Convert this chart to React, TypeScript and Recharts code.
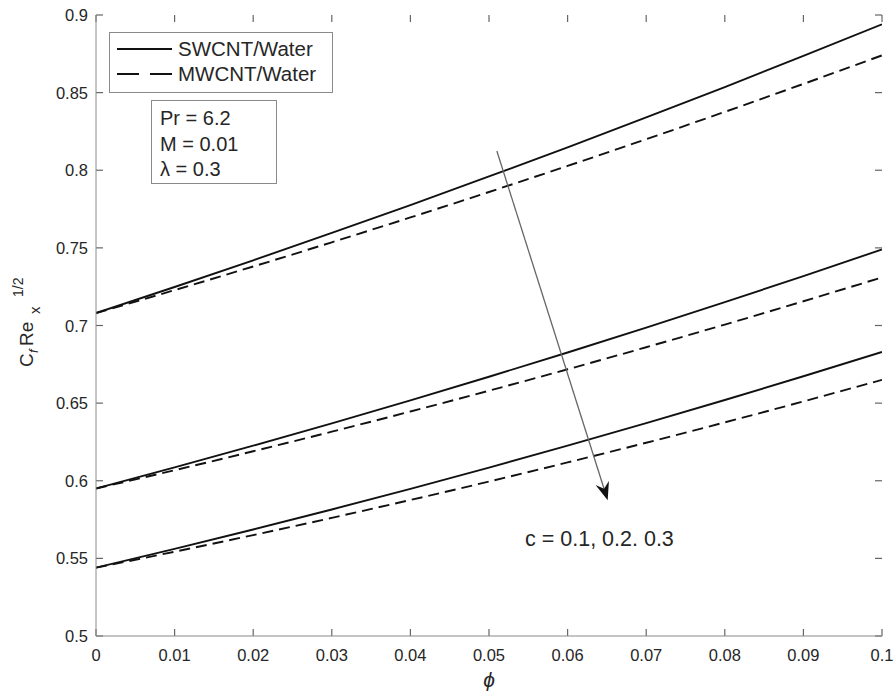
import React from "react";
import {
  LineChart,
  Line,
  XAxis,
  YAxis,
  ReferenceLine,
} from "recharts";

// Volume fraction of the nanotubes
const phi = [0, 0.01, 0.02, 0.03, 0.04, 0.05, 0.06, 0.07, 0.08, 0.09, 0.1];

// Skin friction C_f Re_x^{1/2}, one pair of curves per c value
const swC1 = [0.708, 0.7248, 0.742, 0.7596, 0.7776, 0.796, 0.8148, 0.834, 0.8536, 0.8736, 0.894];
const mwC1 = [0.708, 0.7228, 0.738, 0.7536, 0.7696, 0.786, 0.8028, 0.82, 0.8376, 0.8556, 0.874];
const swC2 = [0.595, 0.6086, 0.6226, 0.637, 0.6518, 0.667, 0.6826, 0.6986, 0.715, 0.7318, 0.749];
const mwC2 = [0.595, 0.6068, 0.619, 0.6316, 0.6446, 0.658, 0.6718, 0.686, 0.7006, 0.7156, 0.731];
const swC3 = [0.544, 0.5561, 0.5686, 0.5815, 0.5948, 0.6085, 0.6226, 0.6371, 0.652, 0.6673, 0.683];
const mwC3 = [0.544, 0.5543, 0.565, 0.5761, 0.5876, 0.5995, 0.6118, 0.6245, 0.6376, 0.6511, 0.665];

const xTicks = [0, 0.01, 0.02, 0.03, 0.04, 0.05, 0.06, 0.07, 0.08, 0.09, 0.1];
const yTicks = [0.5, 0.55, 0.6, 0.65, 0.7, 0.75, 0.8, 0.85, 0.9];

const legendItems = ["SWCNT/Water", "MWCNT/Water"];
const paramLines = ["Pr = 6.2", "M = 0.01", "λ = 0.3"];
const cLabel = "c = 0.1, 0.2. 0.3";

// Direction arrow across the three curve pairs (increasing c)
const arrowFrom = { x: 0.051, y: 0.8124 };
const arrowTo = { x: 0.0651, y: 0.5875 };

const data = phi.map((p, i) => ({
  phi: p,
  sw1: swC1[i],
  mw1: mwC1[i],
  sw2: swC2[i],
  mw2: mwC2[i],
  sw3: swC3[i],
  mw3: mwC3[i],
}));

const FONT = '"Liberation Sans", Arial, Helvetica, sans-serif';
const AXIS_GREY = "#8a8a8a";
const TICK_GREY = "#666";
const TEXT = "#262626";
const DASH = "11 6";
const TICK_LEN = 7;
const TICK_FONT = 16.5;

const fmt = (v: number) => String(parseFloat(v.toFixed(2)));

const BottomTickLabel = (p: any) => (
  <text x={p.x} y={p.y + 12} textAnchor="middle" fontFamily={FONT} fontSize={TICK_FONT} fill={TEXT}>
    {fmt(p.payload.value)}
  </text>
);
const LeftTickLabel = (p: any) => (
  <text x={p.x} y={p.y + 6} textAnchor="end" fontFamily={FONT} fontSize={TICK_FONT} fill={TEXT}>
    {fmt(p.payload.value)}
  </text>
);

// Inward tick marks on both ends of a reference line spanning the plot box
const TickPair = (props: any) => {
  const { x1, y1, x2, y2 } = props;
  const vertical = Math.abs(x1 - x2) < 0.5;
  if (vertical) {
    const top = Math.min(y1, y2);
    const bot = Math.max(y1, y2);
    return (
      <g>
        <line x1={x1} y1={top} x2={x1} y2={top + TICK_LEN} stroke={TICK_GREY} strokeWidth={1.2} />
        <line x1={x1} y1={bot} x2={x1} y2={bot - TICK_LEN} stroke={TICK_GREY} strokeWidth={1.2} />
      </g>
    );
  }
  const left = Math.min(x1, x2);
  const right = Math.max(x1, x2);
  return (
    <g>
      <line x1={left} y1={y1} x2={left + TICK_LEN} y2={y1} stroke={TICK_GREY} strokeWidth={1.2} />
      <line x1={right} y1={y1} x2={right - TICK_LEN} y2={y1} stroke={TICK_GREY} strokeWidth={1.2} />
    </g>
  );
};

const Arrow = (props: any) => {
  const { x1, y1, x2, y2 } = props;
  const dx = x2 - x1;
  const dy = y2 - y1;
  const len = Math.sqrt(dx * dx + dy * dy) || 1;
  const ux = dx / len;
  const uy = dy / len;
  const px = -uy;
  const py = ux;
  const head = 18;
  const half = 7;
  const notch = 12;
  const bx = x2 - ux * head;
  const by = y2 - uy * head;
  const nx = x2 - ux * notch;
  const ny = y2 - uy * notch;
  const pts = [
    [x2, y2],
    [bx + px * half, by + py * half],
    [nx, ny],
    [bx - px * half, by - py * half],
  ]
    .map((p) => p.join(","))
    .join(" ");
  return (
    <g>
      <line x1={x1} y1={y1} x2={nx} y2={ny} stroke="#666" strokeWidth={1.3} />
      <polygon points={pts} fill="#111" />
    </g>
  );
};

// C_f Re_x^{1/2}, rotated
const YLabel = () => (
  <text
    transform="translate(33,367) rotate(-90)"
    fontFamily={FONT}
    fontSize={19}
    fill={TEXT}
  >
    <tspan x={0} y={0}>C</tspan>
    <tspan x={14} y={5} fontSize={13} fontStyle="italic">f</tspan>
    <tspan x={21} y={0}>Re</tspan>
    <tspan x={53} y={7} fontSize={15}>x</tspan>
    <tspan x={70} y={-10} fontSize={14}>1/2</tspan>
  </text>
);

const lineProps = {
  xAxisId: "b",
  yAxisId: "l",
  stroke: "#111",
  strokeWidth: 1.9,
  dot: false,
  isAnimationActive: false,
  type: "monotone" as const,
};

export default function App() {
  return (
    <div
      style={{
        position: "absolute",
        left: 0,
        top: 0,
        width: 895,
        height: 696,
        background: "#fff",
        fontFamily: FONT,
      }}
    >
      <LineChart
        width={895}
        height={696}
        data={data}
        margin={{ top: 15, right: 13, bottom: 0, left: 0 }}
      >
        <XAxis
          xAxisId="b"
          dataKey="phi"
          type="number"
          domain={[0, 0.1]}
          ticks={xTicks}
          orientation="bottom"
          height={60}
          tickSize={0}
          tickLine={false}
          tickMargin={13}
          stroke={AXIS_GREY}
          tick={<BottomTickLabel />}
          allowDataOverflow
        />
        <XAxis
          xAxisId="t"
          dataKey="phi"
          type="number"
          domain={[0, 0.1]}
          orientation="top"
          height={0}
          tickLine={false}
          tick={false}
          stroke={AXIS_GREY}
        />
        <YAxis
          yAxisId="l"
          type="number"
          domain={[0.5, 0.9]}
          ticks={yTicks}
          orientation="left"
          width={96}
          tickSize={0}
          tickLine={false}
          tickMargin={8}
          stroke={AXIS_GREY}
          tick={<LeftTickLabel />}
          label={{ content: () => <YLabel /> }}
          allowDataOverflow
        />
        <YAxis
          yAxisId="r"
          type="number"
          domain={[0.5, 0.9]}
          orientation="right"
          width={0}
          tickLine={false}
          tick={false}
          stroke={AXIS_GREY}
        />

        {xTicks.map((v) => (
          <ReferenceLine
            key={`xt${v}`}
            xAxisId="b"
            yAxisId="l"
            x={v}
            shape={(p: any) => <TickPair {...p} />}
            ifOverflow="visible"
          />
        ))}
        {yTicks.map((v) => (
          <ReferenceLine
            key={`yt${v}`}
            xAxisId="b"
            yAxisId="l"
            y={v}
            shape={(p: any) => <TickPair {...p} />}
            ifOverflow="visible"
          />
        ))}

        <Line {...lineProps} dataKey="sw1" />
        <Line {...lineProps} dataKey="mw1" strokeDasharray={DASH} />
        <Line {...lineProps} dataKey="sw2" />
        <Line {...lineProps} dataKey="mw2" strokeDasharray={DASH} />
        <Line {...lineProps} dataKey="sw3" />
        <Line {...lineProps} dataKey="mw3" strokeDasharray={DASH} />

        <ReferenceLine
          xAxisId="b"
          yAxisId="l"
          segment={[arrowFrom, arrowTo]}
          shape={(p: any) => <Arrow {...p} />}
          ifOverflow="visible"
        />
      </LineChart>

      {/* x axis title */}
      <div
        style={{
          position: "absolute",
          left: 477,
          top: 668,
          width: 24,
          textAlign: "center",
          fontSize: 21,
          fontStyle: "italic",
          color: TEXT,
          lineHeight: "24px",
        }}
      >
        ϕ
      </div>

      {/* series legend */}
      <div
        style={{
          position: "absolute",
          left: 109,
          top: 32,
          width: 222,
          height: 59,
          border: `1px solid ${AXIS_GREY}`,
          background: "#fff",
        }}
      >
        {legendItems.map((name, i) => (
          <div
            key={name}
            style={{
              position: "absolute",
              left: 7,
              top: 3 + i * 25,
              height: 26,
              display: "flex",
              alignItems: "center",
              fontSize: 20.5,
              color: TEXT,
              whiteSpace: "nowrap",
            }}
          >
            <svg width={55} height={10} style={{ marginRight: 6 }}>
              <line
                x1={0}
                y1={5}
                x2={55}
                y2={5}
                stroke="#111"
                strokeWidth={1.9}
                strokeDasharray={i === 1 ? "22 11" : undefined}
              />
            </svg>
            <span>{name}</span>
          </div>
        ))}
      </div>

      {/* parameter box */}
      <div
        style={{
          position: "absolute",
          left: 151,
          top: 100,
          width: 124,
          height: 82,
          border: `1px solid ${AXIS_GREY}`,
          background: "#fff",
          fontSize: 20,
          color: TEXT,
        }}
      >
        {paramLines.map((t, i) => (
          <div
            key={t}
            style={{ position: "absolute", left: 8, top: 4 + i * 25.5, lineHeight: "26px", whiteSpace: "nowrap" }}
          >
            {t}
          </div>
        ))}
      </div>

      {/* c annotation */}
      <div
        style={{
          position: "absolute",
          left: 525,
          top: 526,
          fontSize: 21.5,
          color: TEXT,
          lineHeight: "26px",
          whiteSpace: "nowrap",
        }}
      >
        {cLabel}
      </div>
    </div>
  );
}
